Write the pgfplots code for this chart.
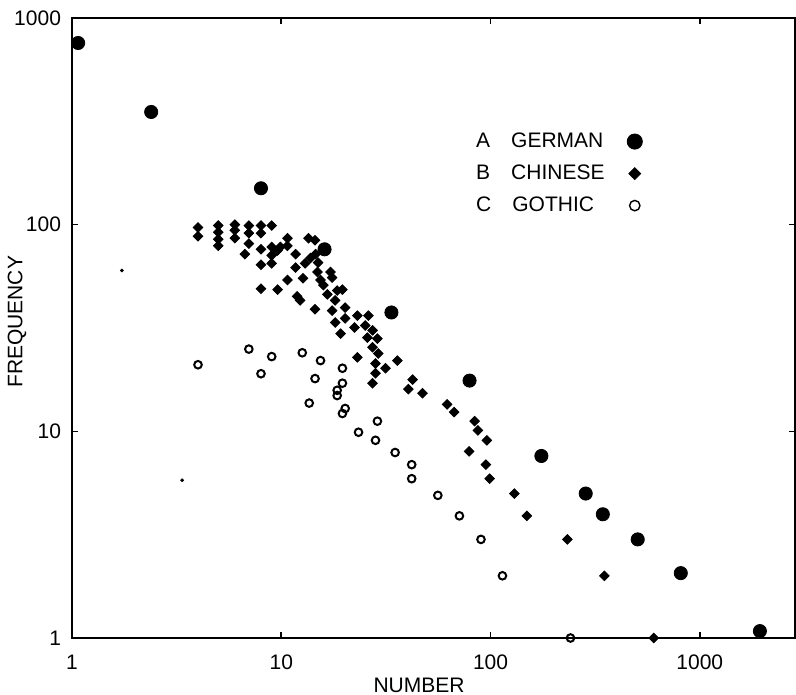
\documentclass[border=0pt]{standalone}
\usepackage{pgfplots}
\pgfplotsset{compat=1.18}
\usepackage{pgfplotstable}
\usepackage{fontspec}
\setmainfont{Liberation Sans}

\pgfplotstableread{
x y
1.07 757
2.39 351
8 150
16.1 76
33.6 37.6
79.4 17.6
175 7.6
285 5.0
344 3.97
505 3.0
811 2.06
1937 1.08
}\german

\pgfplotstableread{
x y
4 97
4 88
5 99
5 92
5 85
5 79
6 100
6 94
6 86
7 99
7 91
7 81
6.7 72
8 99
8 91
8 76
8 64
8 49
9 99
9 78
9 71
9 65
9.6 75
9.9 78
10.7 86
10.7 79
9.6 48.5
10.7 54
11.7 72
11.7 62
11.9 45
12.3 43
12.7 55
13.5 86
14.5 84
13 65
13.8 69
14.6 72
14.5 39
14.9 59
15.4 54
15.9 51
15 65.5
17.2 59
17.5 55.5
16.6 46
17.5 38.4
18.1 43
18.5 48
19.6 48.5
20.2 39.7
20.2 35.2
18.1 33.6
19.2 29.7
23.1 36.3
26.1 36.3
22.4 31.8
25.2 32.5
27.3 30.8
25.8 28.4
28.8 28.1
27.3 25.5
29.1 23.8
23.1 22.8
28.2 21.3
31.5 20.2
35.9 22.0
28.2 19.1
27.3 17.1
42.4 17.8
40.5 16.0
47.3 15.3
62 13.5
67 12.4
84 11.2
87 10.1
79 8.0
96 9.05
95 6.9
99 5.9
130 5.0
149 3.9
233 3.0
350 2.0
603 1.0
}\chinese

\pgfplotstableread{
x y
4 21
7 25
9 23
8 19
12.6 24
15.4 22
14.5 18
19.6 20.2
19.6 17.1
18.5 15.8
18.5 14.9
13.6 13.7
20.2 12.9
19.6 12.2
23.4 9.9
28.8 11.2
28.2 9.05
35 7.9
42 6.9
42 5.9
56 4.9
71 3.9
90 3.0
114 2.0
241 1.0
}\gothic

\pgfplotstableread{
x y
1.73 60
3.36 5.8
}\specks

\begin{document}
\begin{tikzpicture}
\pgfplotsset{every axis/.append style={font=\fontsize{10.5bp}{12.6bp}\selectfont}}
\begin{axis}[
  at={(0,0)}, anchor=south west,
  scale only axis, width=361.5bp, height=310bp,
  xmode=log, ymode=log,
  xmin=1, xmax=2850, ymin=1, ymax=1000,
  xtick={1,10,100,1000}, xticklabels={1,10,100,1000},
  ytick={1,10,100,1000}, yticklabels={1,10,100,1000},
  xminorticks=false, yminorticks=false,
  tick align=inside, major tick length=3bp,
  tick style={black, line width=0.8bp},
  axis line style={line width=1.1bp},
  /pgf/number format/assume math mode=true,
  xticklabel style={yshift=-5bp},
  yticklabel style={xshift=-2bp},
  xlabel={NUMBER}, ylabel={FREQUENCY},
  xlabel style={at={(axis description cs:0.48,-0.0758)}, anchor=center},
  ylabel style={at={(axis description cs:-0.0761,0.51)}, anchor=center},
  clip=false,
  legend plot pos=right,
  legend cell align=left,
  legend style={draw=none, fill=none, at={(axis description cs:0.553,0.822)}, anchor=north west,
    row sep=3.2bp, column sep=10.5bp, inner sep=0pt},
]
\addplot[only marks, mark=*, mark size=3.3bp, black, forget plot] table {\german};
\addplot[only marks, mark=square*, mark size=1.7bp, mark options={rotate=45}, black, forget plot] table {\chinese};
\addplot[only marks, mark=o, mark size=1.9bp, black, line width=1bp, forget plot] table {\gothic};
\addplot[only marks, mark=*, mark size=0.7bp, black, forget plot] table {\specks};
\addlegendimage{only marks, mark=*, mark size=3.8bp, black}
\addlegendentry{\makebox[63bp][l]{A\quad GERMAN}}
\addlegendimage{only marks, mark=square*, mark size=2.1bp, mark options={rotate=45}, black}
\addlegendentry{\makebox[63bp][l]{B\quad CHINESE}}
\addlegendimage{only marks, mark=o, mark size=2.6bp, black, line width=0.7bp}
\addlegendentry{\makebox[63bp][l]{C\quad GOTHIC}}
\end{axis}
\pgfresetboundingbox
\path (-36bp,-28.5bp) rectangle (362bp,319bp);
\end{tikzpicture}
\end{document}
